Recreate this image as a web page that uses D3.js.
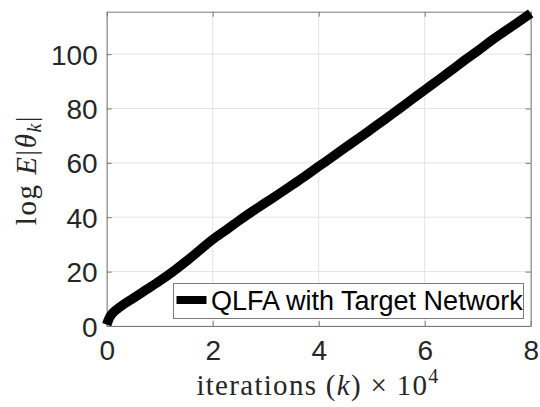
<!DOCTYPE html>
<html>
<head>
<meta charset="utf-8">
<script src="https://cdn.jsdelivr.net/npm/d3@7"></script>
<style>
  html, body { margin: 0; padding: 0; background: #fff; }
  svg { display: block; }
</style>
</head>
<body>
<svg id="chart" width="540" height="407"></svg>
<script>
// ---- data ----
const iterations = [0, 0.05, 0.125, 0.25, 0.5, 0.75, 1.0, 1.25, 1.5, 1.75, 2.0, 2.25, 2.5, 2.75, 3.0, 3.25, 3.5, 3.75, 4.0, 4.25, 4.5, 4.75, 5.0, 5.25, 5.5, 5.75, 6.0, 6.25, 6.5, 6.75, 7.0, 7.25, 7.5, 7.75, 8.0];
const logE = [0.5, 3, 5, 7, 10.2, 13.4, 16.6, 20, 23.8, 27.8, 31.8, 35.3, 38.8, 42.2, 45.4, 48.6, 51.9, 55.2, 58.7, 62.1, 65.6, 69, 72.5, 76, 79.6, 83.2, 86.8, 90.4, 94, 97.7, 101.2, 104.9, 108.3, 111.6, 115];
const xTicks = [0, 2, 4, 6, 8];
const yTicks = [0, 20, 40, 60, 80, 100];
const seriesName = "QLFA with Target Network";

// ---- layout ----
const svg = d3.select("#chart");
const L = 106.7, R = 530.7, T = 11.7, B = 326;
const x = d3.scaleLinear().domain([0, 8]).range([L, R]);
const y = d3.scaleLinear().domain([0, 115.6]).range([B, T]);

// grid
const grid = svg.append("g");
grid.selectAll("line.gx").data(xTicks).join("line")
  .attr("x1", d => x(d)).attr("x2", d => x(d)).attr("y1", T).attr("y2", B)
  .attr("stroke", "#e3e3e3").attr("stroke-width", 1);
grid.selectAll("line.gy").data(yTicks).join("line")
  .attr("x1", L).attr("x2", R).attr("y1", d => y(d)).attr("y2", d => y(d))
  .attr("stroke", "#e3e3e3").attr("stroke-width", 1);

// axes (MATLAB box style, ticks inside)
const axColor = "#7a7a7a";
const fontTick = "'Liberation Sans', Arial, Helvetica, sans-serif";
const xAxis = svg.append("g").attr("transform", `translate(0,${B})`)
  .call(d3.axisBottom(x).tickValues(xTicks).tickSizeInner(-5).tickSizeOuter(0).tickPadding(14).tickFormat(d3.format("d")));
const yAxis = svg.append("g").attr("transform", `translate(${L},0)`)
  .call(d3.axisLeft(y).tickValues(yTicks).tickSizeInner(-5).tickSizeOuter(0).tickPadding(9).tickFormat(d3.format("d")));
const xTop = svg.append("g").attr("transform", `translate(0,${T})`)
  .call(d3.axisTop(x).tickValues(xTicks).tickSizeInner(-5).tickSizeOuter(0).tickFormat(""));
const yRight = svg.append("g").attr("transform", `translate(${R},0)`)
  .call(d3.axisRight(y).tickValues(yTicks).tickSizeInner(-5).tickSizeOuter(0).tickFormat(""));
[xAxis, yAxis, xTop, yRight].forEach(g => {
  g.select(".domain").attr("stroke", axColor).attr("stroke-width", 1);
  g.selectAll(".tick line").attr("stroke", axColor).attr("stroke-width", 1);
  g.selectAll(".tick text").attr("fill", "#262626").attr("font-size", 28).attr("font-family", fontTick);
});
xAxis.selectAll(".tick text").attr("dy", "0.71em");
yAxis.selectAll(".tick text").attr("dy", "0.36em");

// line
const line = d3.line().x((d, i) => x(iterations[i])).y(d => y(d)).curve(d3.curveMonotoneX);
svg.append("path").datum(logE)
  .attr("d", line)
  .attr("fill", "none").attr("stroke", "#000").attr("stroke-width", 9.5)
  .attr("stroke-linejoin", "round").attr("stroke-linecap", "butt");

// legend
const lg = svg.append("g");
lg.append("rect").attr("x", 173.5).attr("y", 283.5).attr("width", 350).attr("height", 35)
  .attr("fill", "#fff").attr("stroke", "#7a7a7a").attr("stroke-width", 1);
lg.append("line").attr("x1", 176.5).attr("x2", 206.5).attr("y1", 300).attr("y2", 300)
  .attr("stroke", "#000").attr("stroke-width", 8);
lg.append("text").attr("x", 211).attr("y", 310)
  .attr("font-family", fontTick).attr("font-size", 27).attr("fill", "#000")
  .text(seriesName);

// axis labels (LaTeX style serif)
const serif = "'Liberation Serif', 'DejaVu Serif', Times, serif";
const xl = svg.append("text").attr("x", 318).attr("y", 395)
  .attr("text-anchor", "middle").attr("font-family", serif).attr("font-size", 29)
  .attr("letter-spacing", 1.3).attr("fill", "#262626");
xl.append("tspan").text("iterations (");
xl.append("tspan").attr("font-style", "italic").text("k");
xl.append("tspan").text(") × 10");
xl.append("tspan").attr("font-size", 20).attr("dy", -12).text("4");

const yl = svg.append("text").attr("transform", "translate(36,170) rotate(-90)")
  .attr("text-anchor", "middle").attr("font-family", serif).attr("font-size", 29)
  .attr("letter-spacing", 1.5).attr("fill", "#262626");
yl.append("tspan").text("log ");
yl.append("tspan").attr("font-style", "italic").text("E");
yl.append("tspan").text("|");
yl.append("tspan").attr("font-style", "italic").text("θ");
yl.append("tspan").attr("font-style", "italic").attr("font-size", 20).attr("dy", 5).text("k");
yl.append("tspan").attr("dy", -5).text("|");
</script>
</body>
</html>
